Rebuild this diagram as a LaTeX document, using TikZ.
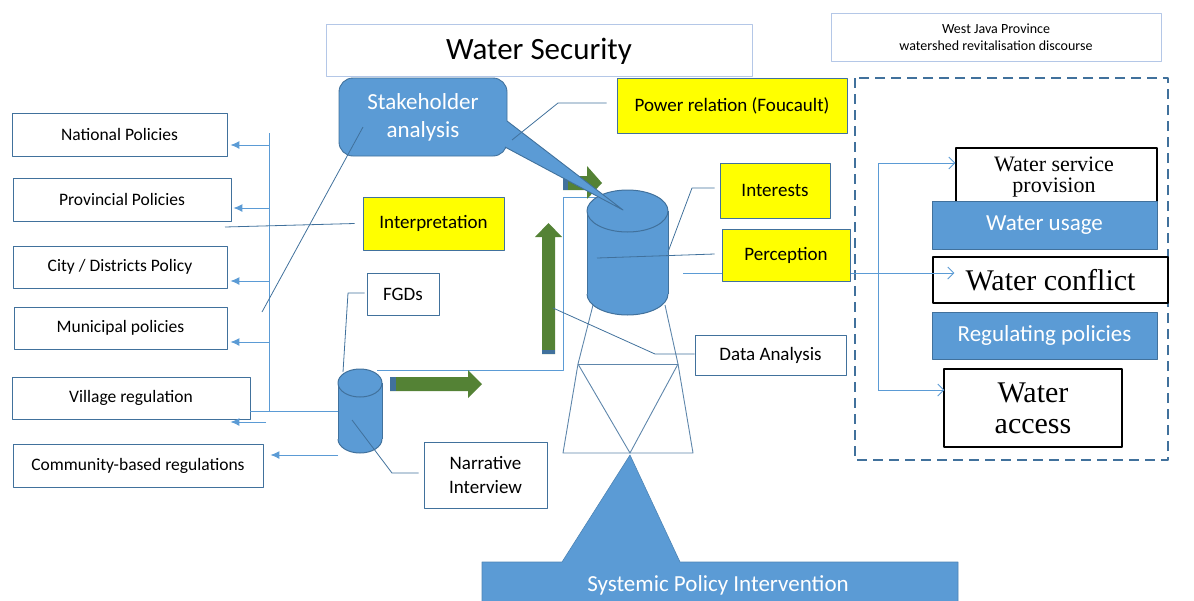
\documentclass[tikz,border=0pt]{standalone}
\usepackage{fontspec}
\setmainfont{Carlito}
\newfontfamily\serifx{Liberation Serif}
\usetikzlibrary{arrows.meta}
\definecolor{bfill}{HTML}{5B9BD5}
\definecolor{bdark}{HTML}{41719C}
\definecolor{lblue}{HTML}{5B9BD5}
\definecolor{pale}{HTML}{B4C7E7}
\definecolor{yellowc}{HTML}{FFFF00}
\definecolor{grn}{HTML}{548235}
\begin{document}
\begin{tikzpicture}[x=1pt,y=-1pt,line join=round,
  bx/.style={draw=bdark,line width=0.9pt,fill=white,inner sep=0pt,align=center},
  lftbox/.style={bx,font=\fontsize{17.5}{21}\selectfont},
  ylwbox/.style={bx,fill=yellowc,font=\fontsize{19}{23}\selectfont},
  palebox/.style={bx,draw=pale},
  bluebox/.style={draw=bdark,line width=0.9pt,fill=bfill,text=white,inner sep=0pt,align=center},
  serifbox/.style={draw=black,line width=1.1pt,fill=white,inner sep=0pt,align=center},
  connline/.style={draw=lblue,line width=1pt},
  arrowline/.style={connline,-{Latex[length=9pt,width=8pt]}},
  barbline/.style={connline,-{Straight Barb[length=6pt,width=12pt]}},
  calloutline/.style={draw=bdark,line width=0.8pt},
  towerline/.style={draw=bdark!85,line width=0.9pt},
  cylborder/.style={draw=bdark,line width=1pt}]
\path[use as bounding box] (0,0) rectangle (1194,600);
\clip (0,0) rectangle (1194,600);

% ---------- left policy boxes ----------
\node[lftbox,minimum width=215pt,minimum height=43pt] (nat) at (119.5,134.5) {National Policies};
\node[lftbox,minimum width=218pt,minimum height=43pt] (prov) at (122,199.5) {Provincial Policies};
\node[lftbox,minimum width=214pt,minimum height=42pt] (city) at (120,267) {City / Districts Policy};
\node[lftbox,minimum width=213pt,minimum height=42pt] (muni) at (120.5,328) {Municipal policies};
\node[lftbox,minimum width=238pt,minimum height=42pt] (vill) at (131,398) {Village regulation};
\node[lftbox,minimum width=250pt,minimum height=43pt] (comm) at (138,465.5) {Community-based regulations};

% ---------- top boxes ----------
\node[palebox,minimum width=426pt,minimum height=52pt] (title) at (539,50) {};
\node[font=\fontsize{31}{34}\selectfont,inner sep=0pt] (titletxt) at (539,51) {Water Security};
\node[palebox,minimum width=330pt,minimum height=48pt,font=\fontsize{14}{17}\selectfont] (wj) at (996,37) {West Java Province\\watershed revitalisation discourse};

% ---------- small cylinder (named) ----------
\node[inner sep=0pt,minimum width=44pt,minimum height=84pt] (smcyl) at (360,411) {};

% ---------- left connectors ----------
\coordinate (vtop) at (269,133);
\coordinate (vbot) at (269,411);
\draw[connline] (vtop) -- (vbot);
\coordinate (v1) at (269,145);
\coordinate (v2) at (269,208);
\coordinate (v3) at (269,281);
\coordinate (v4) at (269,342);
\coordinate (v5) at (266,422);
\draw[arrowline,shorten >=3pt] (v1) -- (v1 -| nat.east);
\draw[arrowline,shorten >=2pt] (v2) -- (v2 -| prov.east);
\draw[arrowline,shorten >=3pt] (v3) -- (v3 -| city.east);
\draw[arrowline,shorten >=3pt] (v4) -- (v4 -| muni.east);
\draw[arrowline] (v5) -- ([xshift=-20pt]v5 -| vill.east);
\draw[connline] (vill.east |- vbot) -- (smcyl.west |- vbot);
\coordinate (c6) at (338,455);
\draw[arrowline,shorten >=7pt] (c6) -- (c6 -| comm.east);

% ---------- right dashed area ----------
\draw[bdark,line width=2pt,dash pattern=on 10pt off 6pt] (855,78) rectangle (1168,460);
\node[serifbox,minimum width=201pt,minimum height=54pt] (wsp) at (1056.5,175) {};
\node[font=\serifx\fontsize{22}{21}\selectfont,align=center,inner sep=0pt] (wsptxt) at (1054,177) {Water service\\provision};
\node[bluebox,minimum width=225pt,minimum height=48pt,font=\fontsize{23}{27}\selectfont] (usage) at (1044.5,225) {Water usage};
\node[serifbox,minimum width=235pt,minimum height=46pt,font=\serifx\fontsize{30}{32}\selectfont] (conflict) at (1050.5,280) {Water conflict};
\node[bluebox,minimum width=225pt,minimum height=47pt,font=\fontsize{23}{27}\selectfont] (regpol) at (1044.5,335.5) {Regulating policies};
\node[serifbox,minimum width=178pt,minimum height=78pt,font=\serifx\fontsize{30}{31}\selectfont] (access) at (1033,408) {Water\\access};
\coordinate (rtop) at (878,163);
\coordinate (rbot) at (878,390);
\draw[connline] (rtop) -- (rbot);
\draw[barbline] (rtop) -- (rtop -| wsp.west);
\draw[barbline,shorten >=-1pt] (rbot) -- (rbot -| access.west);

% ---------- perception -> conflict line ----------
\coordinate (pc) at (683,273);
\draw[barbline] (pc) -- ([xshift=22pt]pc -| conflict.west);

% ---------- line from small cylinder to big cylinder ----------
\coordinate (lk1) at (377,370);
\coordinate (lk2) at (563,370);
\coordinate (lk3) at (563,197);
\coordinate (lk4) at (610,197);
\draw[connline] (lk1) -- (lk2) -- (lk3) -- (lk4);

% ---------- tower ----------
\coordinate (tl) at (578,364);
\coordinate (tr) at (678,364);
\coordinate (bl) at (563,453);
\coordinate (br) at (693,453);
\coordinate (bm) at (630,453);
\draw[towerline] (593,305) -- (tl) -- (bl) -- (br) -- (tr) -- (665,305);
\draw[towerline] (tl) -- (tr);
\draw[towerline] (tl) -- (bm) -- (tr);

% ---------- systemic policy intervention ----------
\filldraw[fill=bfill,draw=bfill!85!black,line width=0.6pt] (482,612) -- (482,562) -- (562,562) -- (630,455) -- (680,562) -- (958,562) -- (958,612);
\node[text=white,font=\fontsize{23}{27}\selectfont,inner sep=0pt] (sysint) at (718,585) {Systemic Policy Intervention};

% ---------- green arrows ----------
\fill[grn] (390,377) -- (468,377) -- (468,370) -- (482,384) -- (468,398) -- (468,391) -- (390,391) -- cycle;
\fill[bdark] (390,377) rectangle (396,391);
\fill[grn] (542,354) -- (542,237) -- (535,237) -- (548.5,223) -- (562,237) -- (555,237) -- (555,354) -- cycle;
\fill[bdark] (542,350) rectangle (555,354);
\fill[grn] (563,176) -- (587,176) -- (587,166) -- (602,183) -- (587,199) -- (587,190) -- (563,190) -- cycle;
\fill[bdark] (563,176) rectangle (568,190);

% ---------- big cylinder ----------
\fill[bfill] (587,211) rectangle (668,294);
\fill[bfill] (627.5,294) ellipse [x radius=40.5,y radius=21];
\begin{scope}
\clip (580,294) rectangle (676,322);
\draw[cylborder] (627.5,294) ellipse [x radius=40.5,y radius=21];
\end{scope}
\draw[cylborder] (587,211) -- (587,294) (668,211) -- (668,294);
\filldraw[fill=bfill,cylborder] (627.5,211) ellipse [x radius=40.5,y radius=21];
\node[inner sep=0pt,minimum width=81pt,minimum height=125pt] (bigcyl) at (627.5,252.5) {};

% ---------- small cylinder drawing ----------
\fill[bfill] (338,383) rectangle (382,439);
\fill[bfill] (360,439) ellipse [x radius=22,y radius=14];
\begin{scope}
\clip (332,439) rectangle (388,456);
\draw[cylborder] (360,439) ellipse [x radius=22,y radius=14];
\end{scope}
\draw[cylborder] (338,383) -- (338,439) (382,383) -- (382,439);
\filldraw[fill=bfill,cylborder] (360,383) ellipse [x radius=22,y radius=14];

% ---------- stakeholder callout ----------
\node[bluebox,rounded corners=14pt,minimum width=168pt,minimum height=78pt,font=\fontsize{23}{28}\selectfont] (stake) at (423,117) {Stakeholder\\analysis};
\coordinate (tailtip) at (623,210);
\fill[bfill] (507,121) -- (tailtip) -- (505,147) -- (498,147) -- (498,121) -- cycle;
\draw[bdark,line width=0.9pt] (507,121) -- (tailtip) -- (505,147);

% ---------- yellow and other boxes ----------
\node[ylwbox,minimum width=230pt,minimum height=55pt] (power) at (732,105.5) {Power relation (Foucault)};
\node[ylwbox,minimum width=141pt,minimum height=53pt] (interp) at (433.5,223.5) {Interpretation};
\node[ylwbox,minimum width=110pt,minimum height=55pt] (interests) at (775,190.5) {Interests};
\node[ylwbox,minimum width=128pt,minimum height=52pt] (percep) at (786,255) {Perception};
\node[bx,minimum width=72pt,minimum height=42pt,font=\fontsize{19}{23}\selectfont] (fgd) at (403,294) {FGDs};
\node[bx,minimum width=151pt,minimum height=40pt,font=\fontsize{19}{23}\selectfont] (data) at (770.5,355) {Data Analysis};
\node[bx,minimum width=123pt,minimum height=66pt,font=\fontsize{19}{24}\selectfont] (narr) at (485.5,475) {Narrative\\Interview};

% ---------- callout lines ----------
\draw[calloutline] (363,127) -- (262,312);
\draw[calloutline] ([xshift=-8pt]interp.west) -- (225,227);
\draw[calloutline] ([xshift=-10pt]power.west |- 0,103) -- (558,103) -- (512,140);
\draw[calloutline] ([xshift=-5pt]interests.west |- 0,188) -- (692,188) -- (668,252);
\draw[calloutline] ([xshift=-7pt]percep.west |- 0,254) -- (597,258);
\draw[calloutline] ([xshift=-2pt]fgd.west |- 0,293) -- (348,293) -- (343,372);
\draw[calloutline] ([xshift=-5pt]narr.west |- 0,473) -- (392,473) -- (352,420);
\draw[calloutline] (data.west |- 0,354) -- (655,354) -- (553,308);
\end{tikzpicture}
\end{document}
